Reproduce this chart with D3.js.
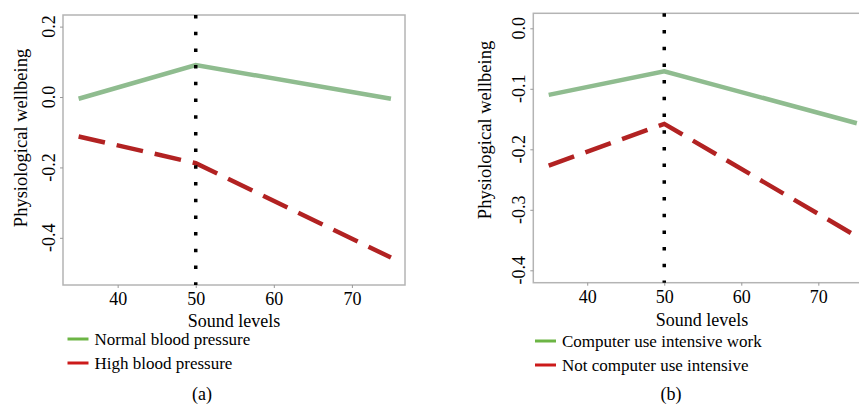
<!DOCTYPE html>
<html>
<head>
<meta charset="utf-8">
<script src="https://cdn.jsdelivr.net/npm/d3@7"></script>
<style>
  body { margin: 0; background: #fff; }
  svg text { font-family: "Liberation Serif", "DejaVu Serif", serif; fill: #000; }
</style>
</head>
<body>
<svg id="drawing_region"></svg>
<script>
var soundLevels = [35, 50, 75];
var normalBP = [-0.005, 0.091, -0.005];
var highBP = [-0.112, -0.188, -0.456];
var computerWork = [-0.110, -0.071, -0.157];
var notComputerWork = [-0.227, -0.158, -0.344];
var xTicks = [40, 50, 60, 70];
var yTicksA = [-0.4, -0.2, 0.0, 0.2];
var yTicksB = [-0.4, -0.3, -0.2, -0.1, 0.0];
var threshold = 50;

var width = 859;
var height = 406;

var svg = d3.select('#drawing_region')
    .attr('width', width)
    .attr('height', height)
    .attr('font-family', '"Liberation Serif", serif');

var lineGreen = '#8fbc8f';
var lineRed = '#b22222';

function drawPanel(p) {
  const xscale = d3.scaleLinear().domain([33.0, 76.8]).range([p.left, p.right]);
  const yscale = d3.scaleLinear().domain(p.ydomain).range([p.bottom, p.top]);

  const g = svg.append('g');

  // box
  g.append('rect')
    .attr('x', p.left).attr('y', p.top)
    .attr('width', p.right - p.left).attr('height', p.bottom - p.top)
    .attr('fill', 'none').attr('stroke', '#b4b4b4').attr('stroke-width', 1.5);

  // x ticks
  const xaxis = d3.axisBottom(xscale).tickValues(xTicks).tickSize(3).tickFormat(d3.format('d'));
  const xg = g.append('g').attr('transform', `translate(0, ${p.bottom})`).call(xaxis)
      .attr('font-family', '"Liberation Serif", serif');
  xg.select('.domain').remove();
  xg.selectAll('line').attr('stroke', '#999');
  xg.selectAll('text')
    .attr('y', p.xlabelY - p.bottom).attr('dy', 0)
    .attr('font-size', 18).attr('fill', '#000');

  // y ticks (rotated labels)
  const yaxis = d3.axisLeft(yscale).tickValues(p.yticks).tickSize(3);
  const yg = g.append('g').attr('transform', `translate(${p.left}, 0)`).call(yaxis);
  yg.select('.domain').remove();
  yg.selectAll('line').attr('stroke', '#999');
  yg.selectAll('text').remove();
  g.selectAll('.ytl').data(p.yticks).join('text')
    .attr('class', 'ytl')
    .attr('transform', d => `translate(${p.ytickX}, ${yscale(d)}) rotate(-90)`)
    .attr('text-anchor', 'middle')
    .attr('font-size', 18)
    .text(d => d3.format('.1f')(d).replace('−', '-'));

  // axis titles
  g.append('text')
    .attr('x', (p.left + p.right) / 2).attr('y', p.xtitleY)
    .attr('text-anchor', 'middle').attr('font-size', 18)
    .text('Sound levels');
  g.append('text')
    .attr('transform', `translate(${p.ytitleX}, ${p.ytitleCY}) rotate(-90)`)
    .attr('text-anchor', 'middle').attr('font-size', 18.5)
    .text('Physiological wellbeing');

  const line = d3.line()
      .x((d, i) => xscale(soundLevels[i]))
      .y(d => yscale(d));

  g.append('path')
    .attr('d', line(p.series[0]))
    .attr('stroke', lineGreen).attr('stroke-width', 4.5).attr('fill', 'none');
  g.append('path')
    .attr('d', line(p.series[1]))
    .attr('stroke', lineRed).attr('stroke-width', 4.5).attr('fill', 'none')
    .attr('stroke-dasharray', '27 12');

  // threshold
  g.append('line')
    .attr('x1', xscale(threshold)).attr('x2', xscale(threshold))
    .attr('y1', p.top).attr('y2', p.bottom)
    .attr('stroke', '#000').attr('stroke-width', 3.5)
    .attr('stroke-dasharray', '3.5 13.2');

  // legend
  const legColors = ['#6cb545', '#cc1a1a'];
  p.legend.forEach((name, i) => {
    const ly = p.legendY[i];
    g.append('line')
      .attr('x1', p.legendX).attr('x2', p.legendX + 21)
      .attr('y1', ly).attr('y2', ly)
      .attr('stroke', legColors[i]).attr('stroke-width', 3);
    g.append('text')
      .attr('x', p.legendX + 27).attr('y', ly + 6)
      .attr('font-size', 17)
      .text(name);
  });

  g.append('text')
    .attr('x', p.capX).attr('y', 400)
    .attr('text-anchor', 'middle').attr('font-size', 18)
    .text(p.caption);
}

drawPanel({
  left: 63, right: 405, top: 15, bottom: 285,
  ydomain: [-0.534, 0.233], yticks: yTicksA,
  series: [normalBP, highBP],
  xlabelY: 305, xtitleY: 327, ytickX: 55, ytitleX: 27, ytitleCY: 138,
  legend: ['Normal blood pressure', 'High blood pressure'],
  legendX: 67.5, legendY: [339, 363],
  capX: 202, caption: '(a)'
});

drawPanel({
  left: 533.3, right: 870.7, top: 13.3, bottom: 282.7,
  ydomain: [-0.4205, 0.0248], yticks: yTicksB,
  series: [computerWork, notComputerWork],
  xlabelY: 303, xtitleY: 326, ytickX: 525, ytitleX: 491, ytitleCY: 130,
  legend: ['Computer use intensive work', 'Not computer use intensive'],
  legendX: 535, legendY: [341, 365],
  capX: 671, caption: '(b)'
});
</script>
</body>
</html>
